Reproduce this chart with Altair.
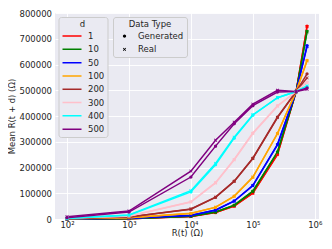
import altair as alt
import pandas as pd

# R(t) values (Ohm)
r_t = [100, 1000, 10000, 25000, 50000, 100000, 250000, 500000, 750000]

d_values = ["1", "10", "50", "100", "200", "300", "400", "500"]
d_colors = ["red", "green", "blue", "orange", "brown", "pink", "cyan", "purple"]

# Mean R(t+d) for generated data, one list per d
gen = {
    "1":   [100, 1000, 10000, 25000, 50000, 101000, 252000, 495000, 749000],
    "10":  [300, 1500, 11000, 27000, 54000, 108000, 261000, 495000, 729000],
    "50":  [800, 3000, 15000, 35000, 70000, 131000, 290000, 495000, 673000],
    "100": [1500, 5000, 22000, 45000, 89000, 162000, 333000, 495000, 616000],
    "200": [3000, 8000, 38000, 84000, 147000, 236000, 396000, 495000, 564000],
    "300": [4000, 12000, 67000, 141000, 231000, 334000, 440000, 495000, 532000],
    "400": [2500, 15000, 105000, 211000, 314000, 403000, 471000, 495000, 515000],
    "500": [5000, 27000, 163000, 283000, 370000, 440000, 493000, 495000, 509000],
}
# Mean R(t+d) for real data
real = {
    "1":   [100, 1000, 10000, 25000, 50000, 100000, 250000, 495000, 747000],
    "10":  [250, 1400, 11000, 27000, 53000, 107000, 259000, 495000, 727000],
    "50":  [700, 2800, 14000, 34000, 69000, 129000, 288000, 495000, 670000],
    "100": [1400, 4800, 21000, 46000, 88000, 163000, 331000, 495000, 614000],
    "200": [2800, 7500, 39000, 85000, 146000, 235000, 394000, 495000, 548000],
    "300": [4000, 11000, 66000, 140000, 230000, 332000, 438000, 495000, 530000],
    "400": [3000, 16000, 110000, 216000, 318000, 405000, 471000, 495000, 517000],
    "500": [9000, 31000, 186000, 306000, 376000, 446000, 500000, 495000, 504000],
}

x_ticks = [100, 1000, 10000, 100000, 1000000]
y_ticks = [0, 100000, 200000, 300000, 400000, 500000, 600000, 700000, 800000]

rows = []
for d in d_values:
    for typ, src in (("Generated", gen), ("Real", real)):
        for x, v in zip(r_t, src[d]):
            rows.append({"R": x, "val": v, "d": d, "type": typ})
df = pd.DataFrame(rows)

dot_path = "M0.19,0A0.19,0.19,0,1,1,-0.19,0A0.19,0.19,0,1,1,0.19,0Z"
x_path = ("M-0.2,-0.13L-0.13,-0.2L0.2,0.13L0.13,0.2Z "
          "M0.13,-0.2L0.2,-0.13L-0.13,0.2L-0.2,0.13Z")

x_enc = alt.X(
    "R:Q",
    scale=alt.Scale(type="log", domain=[64, 1170000], nice=False),
    axis=alt.Axis(
        values=x_ticks,
        labelExpr=("datum.value == 100 ? '10²' : datum.value == 1000 ? '10³' : "
                   "datum.value == 10000 ? '10⁴' : datum.value == 100000 ? '10⁵' : '10⁶'"),
        title="R(t) (Ω)",
        labelFlush=False,
        labelPadding=1,
        titlePadding=0,
        labelOverlap=False,
    ),
)
y_enc = alt.Y(
    "val:Q",
    scale=alt.Scale(domain=[0, 800000], nice=False),
    axis=alt.Axis(
        values=y_ticks,
        tickCount=9,
        format="d",
        title="Mean R(t + d) (Ω)",
        labelPadding=3.5,
        titlePadding=3,
        labelOverlap=False,
    ),
)
color_scale = alt.Scale(domain=d_values, range=d_colors)

lines = alt.Chart(df).mark_line(strokeWidth=1.5).encode(
    x=x_enc,
    y=y_enc,
    color=alt.Color(
        "d:N",
        scale=color_scale,
        sort=d_values,
        legend=alt.Legend(
            title="d",
            orient="none",
            legendX=3.5,
            legendY=4,
            symbolType="stroke",
            symbolSize=361,
            symbolStrokeWidth=1.5,
            labelOffset=5.5,
        ),
    ),
    detail="type:N",
)

points = alt.Chart(df).mark_point(filled=True, size=289, opacity=1, strokeWidth=0).encode(
    x=x_enc,
    y=y_enc,
    color=alt.Color("d:N", scale=color_scale, sort=d_values, legend=None),
    shape=alt.Shape(
        "type:N",
        scale=alt.Scale(domain=["Generated", "Real"], range=[dot_path, x_path]),
        legend=alt.Legend(
            title="Data Type",
            orient="none",
            legendX=58,
            legendY=4,
            symbolSize=289,
            symbolFillColor="black",
            symbolStrokeWidth=0,
            labelOffset=5,
        ),
    ),
)

chart = (
    alt.layer(lines, points)
    .resolve_legend(color="independent", shape="independent")
    .properties(
        width=264,
        height=206,
        autosize=alt.AutoSizeParams(type="none"),
        padding={"left": 47, "top": 5, "right": 5, "bottom": 30},
        background="white",
    )
    .configure(font="DejaVu Sans")
    .configure_view(fill="#EAEAF2", stroke=None)
    .configure_axis(
        domain=False,
        ticks=False,
        grid=True,
        gridColor="white",
        gridWidth=0.9,
        labelFontSize=8.5,
        labelColor="#262626",
        titleFontSize=8.5,
        titleFontWeight="normal",
        titleColor="#262626",
        labelFont="DejaVu Sans",
        titleFont="DejaVu Sans",
    )
    .configure_legend(
        padding=3,
        cornerRadius=2.5,
        fillColor="#EAEAF2",
        strokeColor="#cccccc",
        labelFontSize=8.5,
        titleFontSize=8.5,
        titleFontWeight="normal",
        labelColor="#262626",
        titleColor="#262626",
        titleAnchor="middle",
        titlePadding=3.3,
        rowPadding=4.3,
        clipHeight=8.5,
        symbolBaseFillColor="black",
        labelFont="DejaVu Sans",
        titleFont="DejaVu Sans",
    )
)

chart.save("out.html", embed_options={"renderer": "svg", "actions": False})
